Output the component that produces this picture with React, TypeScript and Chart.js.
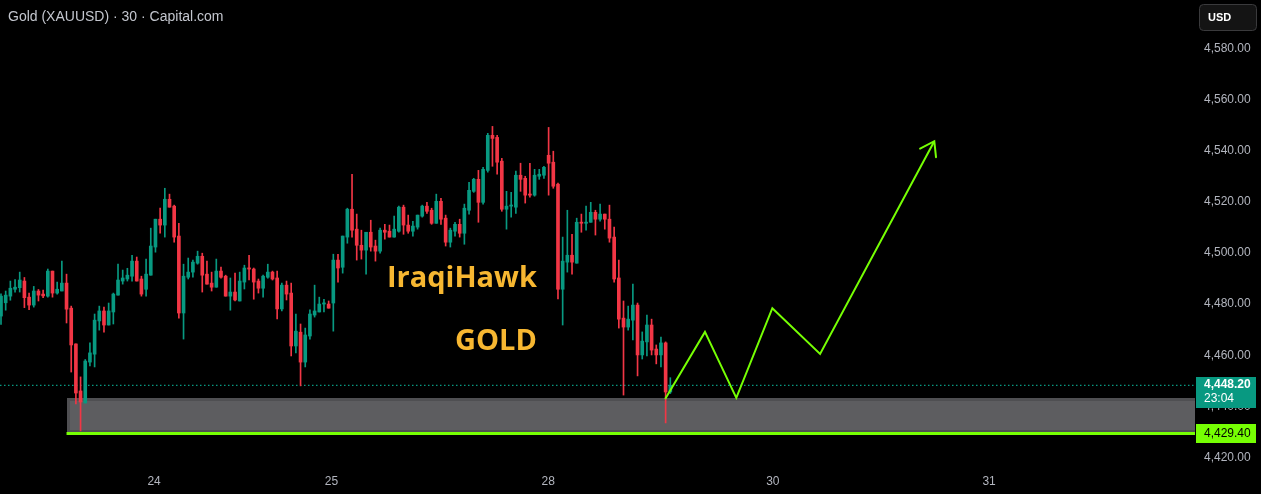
import React, { useEffect, useRef } from "react";
import { Chart, registerables } from "chart.js";

Chart.register(...registerables);

// ---- DATA (30-minute candles) ----
const opens = [
  4475.3, 4480.5, 4483.1, 4485.8, 4486.4, 4489.0, 4482.7, 4479.6, 4485.1, 4483.9,
  4483.1, 4492.9, 4484.3, 4485.1, 4488.2, 4478.4, 4464.4, 4446.0, 4441.3, 4457.3,
  4460.4, 4473.4, 4477.3, 4471.8, 4476.9, 4483.5, 4489.0, 4489.8, 4490.9, 4496.8,
  4489.8, 4485.8, 4491.3, 4502.3, 4513.2, 4510.9, 4521.0, 4518.3, 4506.6, 4476.5,
  4490.5, 4492.5, 4496.0, 4498.7, 4491.7, 4488.2, 4486.6, 4492.9, 4490.9, 4483.1,
  4484.7, 4481.2, 4488.6, 4494.1, 4493.7, 4489.0, 4486.2, 4490.5, 4492.5, 4490.2,
  4478.1, 4487.4, 4484.3, 4463.6, 4469.0, 4457.3, 4467.5, 4475.7, 4476.9, 4480.0,
  4480.0, 4480.4, 4497.2, 4494.4, 4506.2, 4517.1, 4509.3, 4503.0, 4501.1, 4508.1,
  4502.7, 4500.7, 4508.9, 4508.5, 4506.2, 4508.5, 4517.9, 4510.9, 4508.5, 4510.1,
  4514.4, 4518.3, 4516.7, 4511.6, 4520.2, 4513.6, 4504.2, 4508.5, 4511.2, 4507.7,
  4516.7, 4524.1, 4528.8, 4519.8, 4532.3, 4546.0, 4545.2, 4535.9, 4517.1, 4518.3,
  4517.9, 4530.4, 4529.2, 4523.0, 4522.6, 4530.0, 4530.4, 4538.2, 4535.5, 4526.9,
  4485.8, 4496.4, 4499.1, 4496.0, 4512.0, 4511.6, 4512.0, 4515.9, 4513.2, 4515.2,
  4513.2, 4506.2, 4490.2, 4474.5, 4471.0, 4473.7, 4479.6, 4460.1, 4465.2, 4471.8,
  4462.4, 4460.1, 4464.8, 4445.6,
];
const highs = [
  4484.0, 4485.1, 4489.0, 4489.6, 4492.5, 4490.4, 4484.3, 4486.9, 4485.7, 4485.5,
  4493.7, 4492.9, 4488.6, 4496.8, 4491.7, 4479.2, 4464.4, 4451.5, 4458.3, 4464.8,
  4476.1, 4479.2, 4478.8, 4480.4, 4484.3, 4495.6, 4493.3, 4494.0, 4499.1, 4498.4,
  4490.9, 4497.6, 4509.7, 4513.2, 4517.5, 4525.3, 4523.0, 4518.7, 4511.6, 4495.6,
  4498.0, 4497.2, 4500.7, 4499.9, 4496.8, 4492.5, 4497.6, 4494.5, 4491.3, 4490.2,
  4492.1, 4492.5, 4495.2, 4499.1, 4494.1, 4489.8, 4491.3, 4495.6, 4492.9, 4492.9,
  4488.2, 4489.0, 4488.2, 4476.1, 4472.2, 4470.6, 4477.7, 4487.4, 4482.7, 4481.9,
  4481.2, 4499.5, 4499.5, 4506.6, 4517.5, 4530.8, 4515.2, 4508.9, 4508.1, 4512.8,
  4505.0, 4509.7, 4511.2, 4510.9, 4514.4, 4518.3, 4518.7, 4514.8, 4512.4, 4514.8,
  4518.7, 4519.8, 4517.5, 4523.0, 4521.4, 4514.8, 4509.7, 4512.0, 4513.2, 4519.1,
  4527.6, 4529.2, 4532.3, 4533.5, 4546.8, 4549.5, 4546.0, 4537.0, 4524.1, 4523.7,
  4532.0, 4535.1, 4530.0, 4535.1, 4532.7, 4532.7, 4533.9, 4549.1, 4539.8, 4527.3,
  4506.2, 4516.7, 4507.3, 4513.6, 4515.2, 4518.3, 4519.8, 4516.7, 4519.1, 4515.2,
  4518.7, 4510.1, 4497.2, 4481.2, 4479.2, 4487.8, 4480.4, 4469.1, 4475.7, 4474.1,
  4464.0, 4467.1, 4465.2, 4451.2,
];
const lows = [
  4472.0, 4477.6, 4481.5, 4484.7, 4484.7, 4478.6, 4477.8, 4478.8, 4481.2, 4482.5,
  4482.7, 4482.7, 4483.9, 4485.1, 4472.6, 4453.4, 4440.9, 4430.4, 4441.3, 4455.8,
  4455.4, 4469.8, 4469.0, 4471.8, 4472.2, 4483.5, 4487.8, 4489.0, 4489.0, 4489.0,
  4483.1, 4483.1, 4491.3, 4500.3, 4507.7, 4506.2, 4517.9, 4504.2, 4474.5, 4466.3,
  4489.8, 4490.5, 4495.6, 4484.7, 4487.8, 4485.1, 4486.6, 4490.1, 4483.1, 4477.6,
  4481.2, 4481.2, 4485.9, 4489.4, 4481.9, 4484.3, 4482.7, 4490.1, 4489.4, 4474.2,
  4477.3, 4481.6, 4459.7, 4460.9, 4448.0, 4455.4, 4466.3, 4474.9, 4476.9, 4476.9,
  4478.4, 4469.4, 4488.6, 4492.1, 4503.8, 4506.2, 4497.2, 4497.6, 4491.7, 4500.7,
  4496.8, 4499.9, 4505.4, 4506.2, 4506.2, 4508.1, 4507.3, 4507.7, 4506.6, 4509.3,
  4514.0, 4515.5, 4511.2, 4511.6, 4511.2, 4502.7, 4502.3, 4506.6, 4506.2, 4503.4,
  4515.2, 4523.7, 4512.0, 4519.1, 4531.6, 4533.9, 4530.8, 4516.3, 4509.3, 4514.0,
  4515.5, 4524.1, 4519.5, 4521.8, 4522.2, 4528.8, 4529.2, 4522.6, 4525.3, 4482.0,
  4471.8, 4492.5, 4491.7, 4496.0, 4508.1, 4508.9, 4512.0, 4507.0, 4512.4, 4509.3,
  4504.2, 4488.6, 4470.6, 4444.4, 4469.8, 4466.0, 4451.9, 4458.5, 4459.7, 4460.1,
  4456.6, 4455.4, 4433.5, 4445.0,
];
const closes = [
  4483.1, 4483.5, 4486.2, 4486.6, 4489.4, 4482.5, 4479.6, 4485.1, 4483.5, 4483.2,
  4492.9, 4484.3, 4485.8, 4488.2, 4478.0, 4464.0, 4445.2, 4441.7, 4457.7, 4460.9,
  4473.7, 4477.3, 4471.8, 4477.3, 4483.9, 4489.4, 4490.2, 4491.3, 4496.8, 4489.0,
  4483.9, 4491.7, 4502.7, 4513.2, 4510.9, 4521.0, 4517.9, 4506.2, 4476.5, 4490.9,
  4492.5, 4496.4, 4498.7, 4491.3, 4487.8, 4486.6, 4492.9, 4490.5, 4483.1, 4484.7,
  4481.6, 4489.0, 4494.1, 4493.7, 4488.6, 4486.2, 4490.9, 4492.5, 4489.8, 4478.1,
  4487.4, 4483.9, 4463.6, 4469.4, 4457.3, 4467.9, 4476.1, 4477.3, 4480.0, 4480.3,
  4478.4, 4497.2, 4494.1, 4506.6, 4517.1, 4508.9, 4503.0, 4501.1, 4508.1, 4502.3,
  4500.7, 4508.9, 4508.1, 4506.2, 4509.3, 4517.9, 4510.9, 4508.5, 4510.5, 4514.8,
  4518.3, 4516.3, 4511.6, 4520.2, 4513.2, 4504.2, 4508.9, 4511.2, 4507.7, 4517.5,
  4524.5, 4528.8, 4519.8, 4532.7, 4546.0, 4544.8, 4535.5, 4517.1, 4518.3, 4518.7,
  4530.4, 4528.8, 4522.6, 4522.6, 4530.4, 4530.8, 4533.5, 4535.1, 4526.1, 4485.8,
  4496.8, 4499.1, 4496.4, 4512.0, 4511.6, 4512.0, 4515.9, 4513.2, 4515.2, 4513.2,
  4505.8, 4489.8, 4474.1, 4471.0, 4474.1, 4479.6, 4460.1, 4465.5, 4471.8, 4462.0,
  4460.1, 4464.8, 4445.6, 4448.2,
];

const priceTicks = [4420, 4440, 4460, 4480, 4500, 4520, 4540, 4560, 4580];
const dateTickPositions = [32.7, 70.6, 116.9, 164.9, 211.1];
const dateTickLabels = ["24", "25", "28", "30", "31"];

// projected path (bar index, price)
const projectionX = [141.9, 150.4, 157.1, 164.8, 175.0, 199.4];
const projectionY = [4442.9, 4469.1, 4443.3, 4478.4, 4460.5, 4543.7];

const lastPrice = 4448.2;
const supportPrice = 4429.4;
const zoneTop = 4443.2;
const zoneStartIndex = 14;
const countdown = "23:04";
const currency = "USD";
const titleText = "Gold (XAUUSD) · 30 · Capital.com";
const noteLines = ["IraqiHawk", "GOLD"];
const notePrices = [4489.8, 4465.2];
const noteIndex = 114.5;

const X_MIN = -0.214;
const X_MAX = 255.1;
const Y_MIN = 4416.65;
const Y_MAX = 4598.95;

const UP = "#089981";
const DOWN = "#f23645";
const LIME = "#76ff03";
const AXIS_TEXT = "#b2b5be";

const fmt = (v: number) =>
  v.toLocaleString("en-US", { minimumFractionDigits: 2, maximumFractionDigits: 2 });

export default function App() {
  const ref = useRef<HTMLCanvasElement | null>(null);

  useEffect(() => {
    document.body.style.margin = "0";
    document.body.style.background = "#000";
    const canvas = ref.current;
    if (!canvas) return;

    const colors = opens.map((o, i) => (closes[i] >= o ? UP : DOWN));
    const bodies = opens.map((o, i) => {
      let lo = Math.min(o, closes[i]);
      let hi = Math.max(o, closes[i]);
      if (hi - lo < 0.45) hi = lo + 0.45;
      return { x: i, y: [lo, hi] };
    });
    const wicks = highs.map((h, i) => ({ x: i, y: [lows[i], h] }));

    const overlay = {
      id: "overlay",
      beforeDatasetsDraw(chart: any) {
        const { ctx, chartArea, scales } = chart;
        const x = scales.x;
        const y = scales.y;
        const left = Math.round(x.getPixelForValue(zoneStartIndex));
        const top = Math.round(y.getPixelForValue(zoneTop));
        const bottom = Math.round(y.getPixelForValue(supportPrice));
        ctx.save();
        ctx.fillStyle = "#4f4f52";
        ctx.fillRect(left, top, chartArea.right - left, bottom - top);
        ctx.fillStyle = "#5d5d60";
        ctx.fillRect(left + 3, top + 3, chartArea.right - left - 3, bottom - top - 6);
        ctx.restore();
      },
      afterDatasetsDraw(chart: any) {
        const { ctx, scales } = chart;
        const x = scales.x;
        const y = scales.y;
        // arrow head at the end of the projection
        const k = projectionX.length - 1;
        const tx = x.getPixelForValue(projectionX[k]);
        const ty = y.getPixelForValue(projectionY[k]);
        const px = x.getPixelForValue(projectionX[k - 1]);
        const py = y.getPixelForValue(projectionY[k - 1]);
        const back = Math.atan2(py - ty, px - tx);
        const len = 16;
        ctx.save();
        ctx.strokeStyle = LIME;
        ctx.lineWidth = 2;
        ctx.lineCap = "round";
        ctx.beginPath();
        ctx.moveTo(tx + Math.cos(back - 0.6) * len, ty + Math.sin(back - 0.6) * len);
        ctx.lineTo(tx, ty);
        ctx.lineTo(tx + Math.cos(back + 0.6) * len, ty + Math.sin(back + 0.6) * len);
        ctx.stroke();

        // text notes
        ctx.fillStyle = "#f7b731";
        ctx.font = "bold 29px 'Open Sans'";
        ctx.textAlign = "right";
        ctx.textBaseline = "middle";
        noteLines.forEach((t, i) => {
          ctx.fillText(t, x.getPixelForValue(noteIndex), y.getPixelForValue(notePrices[i]));
        });
        ctx.restore();
      },
      afterDraw(chart: any) {
        const { ctx, chartArea, scales } = chart;
        const y = scales.y;
        const right = chartArea.right;
        ctx.save();
        // title
        ctx.fillStyle = "#c3c6ce";
        ctx.font = "14px 'Liberation Sans'";
        ctx.textAlign = "left";
        ctx.textBaseline = "middle";
        ctx.fillText(titleText, 8, 17);

        // last price label
        const ly = Math.round(y.getPixelForValue(lastPrice));
        ctx.fillStyle = UP;
        ctx.fillRect(right + 1, ly - 8, 60, 31);
        ctx.fillStyle = "#ffffff";
        ctx.font = "bold 12px 'Liberation Sans'";
        ctx.fillText(fmt(lastPrice), right + 9, ly);
        ctx.font = "12px 'Liberation Sans'";
        ctx.fillText(countdown, right + 9, ly + 14);

        // support price label
        const sy = Math.round(y.getPixelForValue(supportPrice));
        ctx.fillStyle = LIME;
        ctx.fillRect(right + 1, sy - 9, 60, 19);
        ctx.fillStyle = "#000000";
        ctx.font = "12px 'Liberation Sans'";
        ctx.fillText(fmt(supportPrice), right + 9, sy + 0.5);

        // currency button
        ctx.fillStyle = "#141414";
        ctx.strokeStyle = "#3a3a3c";
        ctx.lineWidth = 1;
        ctx.beginPath();
        (ctx as any).roundRect(1199.5, 4.5, 57, 26, 4);
        ctx.fill();
        ctx.stroke();
        ctx.fillStyle = "#ffffff";
        ctx.font = "bold 11px 'Liberation Sans'";
        ctx.fillText(currency, 1208, 18);
        ctx.restore();
      },
    };

    const chart = new Chart(canvas, {
      type: "bar",
      data: {
        datasets: [
          {
            type: "line",
            data: projectionX.map((v, i) => ({ x: v, y: projectionY[i] })),
            borderColor: LIME,
            borderWidth: 2,
            pointRadius: 0,
            tension: 0,
            order: 0,
          } as any,
          {
            type: "line",
            data: [
              { x: zoneStartIndex, y: supportPrice },
              { x: X_MAX, y: supportPrice },
            ],
            borderColor: LIME,
            borderWidth: 3,
            pointRadius: 0,
            order: 0,
          } as any,
          {
            type: "line",
            data: [
              { x: X_MIN, y: lastPrice },
              { x: X_MAX, y: lastPrice },
            ],
            borderColor: UP,
            borderWidth: 1.2,
            borderDash: [1.5, 2.5],
            pointRadius: 0,
            order: 5,
          } as any,
          {
            type: "bar",
            data: wicks as any,
            backgroundColor: colors,
            barThickness: 1,
            grouped: false,
            borderWidth: 0,
            order: 3,
          } as any,
          {
            type: "bar",
            data: bodies as any,
            backgroundColor: colors,
            barThickness: 3,
            grouped: false,
            borderWidth: 0,
            order: 2,
          } as any,
        ],
      },
      options: {
        responsive: false,
        animation: false,
        events: [],
        layout: { padding: 0 },
        plugins: { legend: { display: false }, tooltip: { enabled: false } },
        scales: {
          x: {
            type: "linear",
            min: X_MIN,
            max: X_MAX,
            offset: false,
            grid: { display: false, drawTicks: false },
            border: { display: false },
            afterBuildTicks: (s: any) => {
              s.ticks = dateTickPositions.map((v) => ({ value: v }));
            },
            afterFit: (s: any) => {
              s.height = 28;
              s.paddingLeft = 0;
              s.paddingRight = 0;
            },
            ticks: {
              autoSkip: false,
              maxRotation: 0,
              padding: 8,
              color: AXIS_TEXT,
              font: { family: "'Liberation Sans'", size: 12 },
              callback: (v: any) => {
                const idx = dateTickPositions.indexOf(Number(v));
                return idx >= 0 ? dateTickLabels[idx] : "";
              },
            },
          },
          y: {
            type: "linear",
            position: "right",
            min: Y_MIN,
            max: Y_MAX,
            grid: { display: false, drawTicks: false },
            border: { display: false },
            afterBuildTicks: (s: any) => {
              s.ticks = priceTicks.map((v) => ({ value: v }));
            },
            afterFit: (s: any) => {
              s.width = 66;
              s.paddingTop = 0;
              s.paddingBottom = 0;
            },
            ticks: {
              padding: 9,
              color: AXIS_TEXT,
              font: { family: "'Liberation Sans'", size: 12 },
              callback: (v: any) => fmt(Number(v)),
            },
          },
        },
      },
      plugins: [overlay],
    });

    return () => chart.destroy();
  }, []);

  return (
    <div style={{ width: 1261, height: 494, background: "#000" }}>
      <canvas ref={ref} width={1261} height={494} />
    </div>
  );
}
